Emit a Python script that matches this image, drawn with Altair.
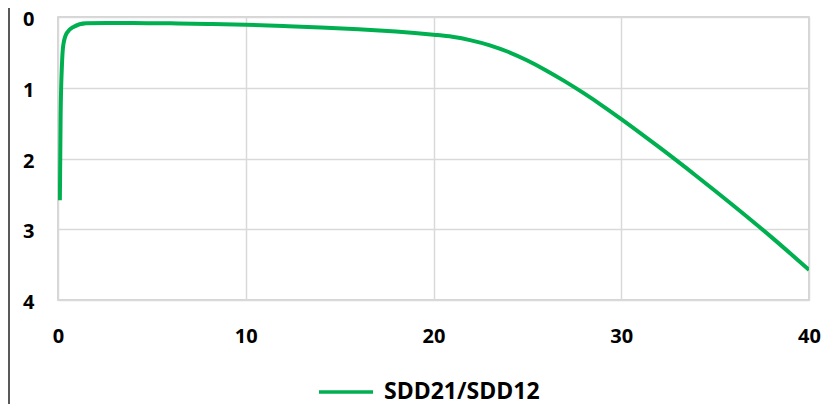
import altair as alt
import pandas as pd

# Data
freq_x = [0.1, 0.14, 0.21, 0.28, 0.46, 0.82, 1.5, 2.6, 4, 6, 8, 10, 12, 14, 16, 18,
          19, 20, 21, 22, 23, 24, 25, 26, 27, 28, 29, 30, 32, 34, 36, 38, 40]
ratio_y = [2.59, 1.39, 0.68, 0.40, 0.23, 0.14, 0.09, 0.085, 0.086, 0.09, 0.098, 0.11,
           0.127, 0.147, 0.172, 0.205, 0.225, 0.25, 0.28, 0.33, 0.40, 0.495, 0.615,
           0.755, 0.91, 1.077, 1.255, 1.443, 1.837, 2.247, 2.671, 3.111, 3.575]
series_name = "SDD21/SDD12"
x_ticks = [0, 10, 20, 30, 40]
y_ticks = [0, 1, 2, 3, 4]

df = pd.DataFrame({"x": freq_x, "y": ratio_y, "series": [series_name] * len(freq_x)})

FONT = "Open Sans"

line = alt.Chart(df).mark_line(
    strokeWidth=4, interpolate="monotone", clip=True
).encode(
    x=alt.X("x:Q", scale=alt.Scale(domain=[0, 40], nice=False, zero=False),
            axis=alt.Axis(values=x_ticks, title=None, grid=True, ticks=False,
                          domain=False, labelPadding=26, labelFlush=False,
                          format="d")),
    y=alt.Y("y:Q", scale=alt.Scale(domain=[0, 4], reverse=True, nice=False),
            axis=alt.Axis(values=y_ticks, title=None, grid=True, ticks=False,
                          domain=False, labelPadding=24, labelFlush=False,
                          labelOffset=2.5, format="d")),
    color=alt.Color("series:N", scale=alt.Scale(range=["#00B050"]),
                    legend=alt.Legend(orient="none", legendX=259, legendY=346,
                                      direction="horizontal", title=None,
                                      symbolType="stroke", symbolSize=2916,
                                      symbolStrokeWidth=3.5, labelOffset=9,
                                      labelFontSize=23, labelFont=FONT,
                                      labelFontWeight="bold", labelColor="black",
                                      padding=0)),
)

frame = alt.Chart(pd.DataFrame({"a": [0]})).mark_rule(
    color="#595959", strokeWidth=2
).encode(x=alt.value(-49), y=alt.value(-9), y2=alt.value(400))

chart = alt.layer(line, frame).properties(
    width=751, height=283,
    autosize=alt.AutoSizeParams(type="none"),
    padding={"left": 50, "top": 9, "right": 18, "bottom": 112},
).configure_view(
    stroke="#c8c8c8", strokeWidth=1.5
).configure_axis(
    gridColor="#d9d9d9", gridWidth=1.5,
    labelFont=FONT, labelFontSize=20, labelFontWeight="bold", labelColor="black",
)

chart.save("out.html", embed_options={"renderer": "svg", "actions": False})
